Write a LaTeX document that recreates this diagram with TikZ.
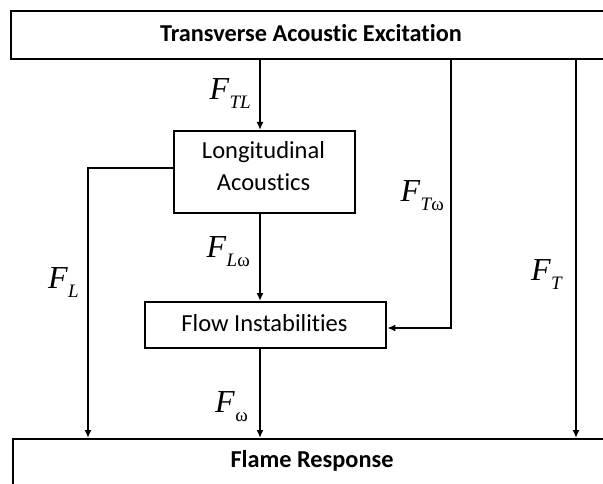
\documentclass[tikz,border=0pt]{standalone}
\usepackage{fontspec}
\setmainfont{Carlito}[RawFeature={-liga}]
\newfontfamily\mserif{Liberation Serif}
\usetikzlibrary{arrows.meta}
\newcommand{\flab}[1]{{\mserif\fontsize{32}{32}\selectfont\itshape F}\kern0.5pt\raisebox{-9pt}{\mserif\fontsize{19}{19}\selectfont #1}}
\tikzset{
  box/.style={draw, line width=2.3pt, inner sep=0pt, anchor=north west},
  conn/.style={line width=2pt, -{Latex[length=8pt,width=7pt]}},
  lab/.style={anchor=base east, inner sep=0pt},
  btext/.style={font=\fontsize{24.5}{32}\selectfont, align=center, inner sep=0pt},
}
\begin{document}
\begin{tikzpicture}[x=1pt,y=-1pt]
\useasboundingbox (0,0) rectangle (603,484);
\clip (0,0) rectangle (603,484);
% boxes
\node[box, minimum width=602pt, minimum height=48pt] (top) at (10,10) {};
\node[btext, font=\fontsize{24.3}{28}\selectfont\bfseries] (toptext) at (311,33) {Transverse Acoustic Excitation};
\node[box, minimum width=181pt, minimum height=82pt] (longi) at (173,130) {};
\node[btext] (longitext) at (263.5,166) {Longitudinal\\Acoustics};
\node[box, minimum width=241pt, minimum height=46pt] (flow) at (144,301) {};
\node[btext] (flowtext) at (264.5,323) {Flow Instabilities};
\node[box, minimum width=600pt, minimum height=60pt] (flame) at (12,438) {};
\node[btext, font=\fontsize{24.3}{28}\selectfont\bfseries] (flametext) at (312,461) {Flame Response};
% helper coordinates
\coordinate (cx) at (260,0);
\coordinate (cL) at (88,168);
\coordinate (cTw) at (451,328);
\coordinate (cT) at (576,0);
% connectors
\draw[conn] (cx |- top.south) -- (cx |- longi.north);
\draw[conn] (cx |- longi.south) -- (cx |- flow.north);
\draw[conn] (cx |- flow.south) -- (cx |- flame.north);
\draw[conn] (longi.west |- cL) -- (cL) -- (cL |- flame.north);
\draw[conn] (cTw |- top.south) -- (cTw) -- (flow.east |- cTw);
\draw[conn] (cT |- top.south) -- (cT |- flame.north);
% labels
\node[lab] (fTL) at (251,100) {\flab{\itshape TL}};
\node[lab] (fLw) at (250,258) {\flab{\itshape L\upshape ω}};
\node[lab] (fL) at (79,288) {\flab{\itshape L}};
\node[lab] (fTw) at (444,202) {\flab{\itshape T\upshape ω}};
\node[lab] (fT) at (562,280) {\flab{\itshape T}};
\node[lab] (fw) at (248,412) {\flab{ω}};
\end{tikzpicture}
\end{document}
